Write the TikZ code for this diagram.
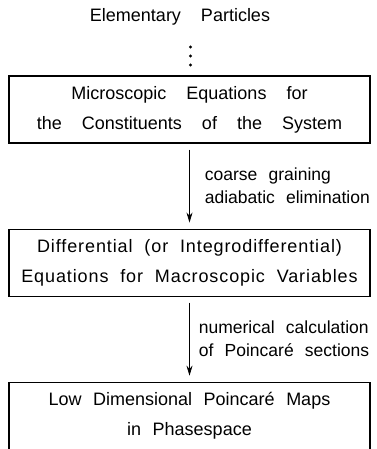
\documentclass[tikz,border=0pt]{standalone}
\usepackage{fontspec}
\setmainfont[WordSpace=4]{Liberation Sans}
\newfontfamily\midspace[WordSpace=3]{Liberation Sans}
\newfontfamily\spreadspace[WordSpace=2, LetterSpace=5]{Liberation Sans}
\newfontfamily\narrowspace[WordSpace=2.3]{Liberation Sans}
\usepackage{tikz}
\usetikzlibrary{arrows.meta,positioning}

\begin{document}
\begin{tikzpicture}[x=1pt, y=1pt,
  node distance=85pt,
  stage/.style={draw, line width=1.1pt, minimum width=361pt,
                minimum height=67pt, align=center, inner sep=0pt,
                font=\fontsize{18}{30}\selectfont},
  lbl/.style={align=left, inner sep=0pt,
              font=\narrowspace\fontsize{17.5}{23}\selectfont},
  arr/.style={-{Stealth[length=10pt, width=6pt]}, line width=0.8pt,
              shorten <=6pt, shorten >=6pt}
]
\useasboundingbox (0,0) rectangle (376,-449);
\node[font=\fontsize{18}{22}\selectfont] (particles) at (180,-17) {Elementary Particles};
\foreach \y in {-47,-56,-65}
  \fill (190.5,\y) circle (1.6pt);
\node[stage] (micro) at (189.5,-109.5)
  {Microscopic Equations for\\the Constituents of the System};
\node[stage, font=\spreadspace\fontsize{18}{30}\selectfont, below=of micro] (macro)
  {Differential (or Integrodifferential)\\Equations for Macroscopic Variables};
\node[stage, font=\midspace\fontsize{18}{30}\selectfont, below=of macro] (maps)
  {Low Dimensional Poincaré Maps\\in Phasespace};
\draw[arr] (micro) -- node[lbl, right=15pt]{coarse graining\\adiabatic elimination} (macro);
\draw[arr] (macro) -- node[lbl, right=9pt]{numerical calculation\\of Poincaré sections} (maps);
\end{tikzpicture}
\end{document}
